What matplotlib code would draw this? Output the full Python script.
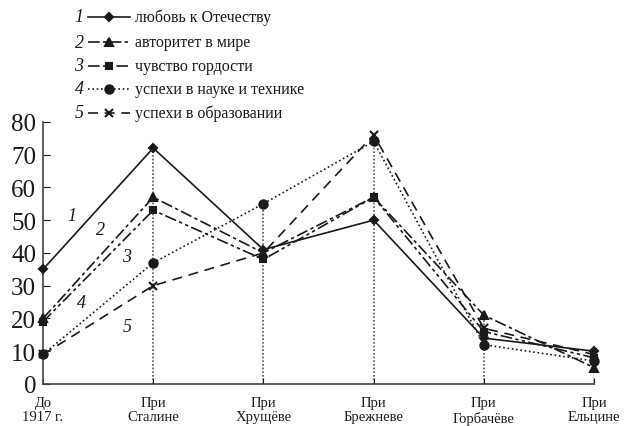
import matplotlib.pyplot as plt
from matplotlib.lines import Line2D

plt.rcParams['font.family'] = ['Liberation Serif', 'DejaVu Serif']

periods = ["До\n1917 г.", "При\nСталине", "При\nХрущёве", "При\nБрежневе", "При\nГорбачёве", "При\nЕльцине"]
names = ["любовь к Отечеству", "авторитет в мире", "чувство гордости",
         "успехи в науке и технике", "успехи в образовании"]

love = [35, 72, 41, 50, 14, 10]
authority = [20, 57, 40, 57, 21, 5]
pride = [19, 53, 38, 57, 16, 8]
science = [9, 37, 55, 74, 12, 7]
education = [9, 30, 40, 76, 17, 9]
series = [love, authority, pride, science, education]

# curve number labels (data coords)
num_x = [0.26, 0.52, 0.76, 0.35, 0.76]
num_y = [51.5, 47, 39, 25, 17.5]

styles = [
    dict(marker='D', ms=4.5, dashes=None),
    dict(marker='^', ms=6, dashes=(7, 2, 2, 2)),
    dict(marker='s', ms=5, dashes=(7, 2, 2, 2, 2, 2)),
    dict(marker='o', ms=6, dashes=(1, 1.6)),
    dict(marker='x', ms=5.5, dashes=(6, 4)),
]
col = '#1a1a1a'

fig = plt.figure(figsize=(6.29, 4.27), dpi=100)
ax = fig.add_axes([0.0684, 0.0984, 0.876, 0.614])
x = list(range(len(periods)))

# vertical dotted guides from the highest point to the axis
for i in x[1:5]:
    top = max(s[i] for s in series)
    ax.plot([i, i], [0, top], color='#555555', lw=1.2, ls=(0, (1, 1.2)), zorder=1)
ax.plot([5, 5], [0, max(s[5] for s in series)], color=col, lw=1.0, zorder=1)

for s, st in zip(series, styles):
    line, = ax.plot(x, s, color=col, lw=1.2, marker=st['marker'], ms=st['ms'],
                    mfc=col, mec=col, mew=1.5, clip_on=False, zorder=3)
    if st['dashes']:
        line.set_dashes(st['dashes'])

for k in range(5):
    ax.text(num_x[k], num_y[k], str(k + 1), fontsize=13, style='italic',
            ha='center', va='center', color=col)

ax.set_xlim(0, 5)
ax.set_ylim(0, 80)
ax.set_yticks(range(0, 81, 10))
ax.set_xticks(x)
ax.set_xticklabels(periods, fontsize=10.5, linespacing=1.1)
ax.tick_params(axis='y', direction='in', length=5, labelsize=18, pad=5, colors=col)
ax.tick_params(axis='x', direction='in', length=4, pad=9, colors=col)
for sp in ['top', 'right']:
    ax.spines[sp].set_visible(False)
for sp in ['left', 'bottom']:
    ax.spines[sp].set_color('#444444')
    ax.spines[sp].set_linewidth(1.2)

# legend drawn by hand
leg_y = [18, 43, 67, 90, 114]
for k, (nm, st) in enumerate(zip(names, styles)):
    yf = 1 - leg_y[k] / 427
    fig.text(79 / 629, yf, str(k + 1), fontsize=13, style='italic',
             ha='center', va='center', color=col)
    ln = Line2D([88 / 629, 130 / 629], [yf, yf], transform=fig.transFigure,
                color=col, lw=1.2)
    if st['dashes']:
        ln.set_dashes(st['dashes'])
    fig.add_artist(ln)
    fig.add_artist(Line2D([109 / 629], [yf], transform=fig.transFigure, marker=st['marker'],
                          ms=st['ms'], color=col, mfc=col, mec=col, mew=1.5, ls='none'))
    fig.text(135 / 629, yf, nm, fontsize=11.5, ha='left', va='center', color=col)

fig.savefig("out.png", dpi=100)
